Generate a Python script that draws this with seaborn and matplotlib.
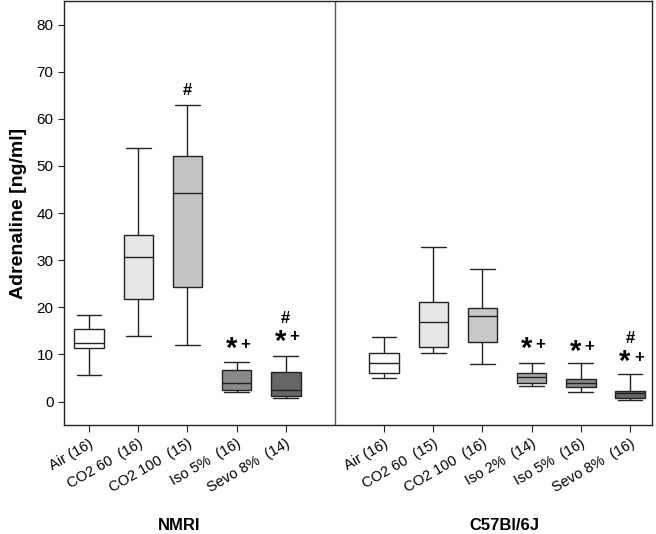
import numpy as np
import pandas as pd
import seaborn as sns
import matplotlib.pyplot as plt

# groups: NMRI (left) and C57Bl/6J (right)
nmri_labels = ["Air (16)", "CO2 60  (16)", "CO2 100  (15)", "Iso 5%  (16)", "Sevo 8%  (14)"]
c57_labels = ["Air (16)", "CO2 60  (15)", "CO2 100  (16)", "Iso 2%  (14)", "Iso 5%  (16)", "Sevo 8%  (16)"]

# five-number summaries: min, q1, median, q3, max
nmri_min = [5.7, 13.9, 11.9, 2.0, 0.7]
nmri_q1 = [11.4, 21.8, 24.4, 2.5, 1.2]
nmri_med = [12.4, 30.6, 44.3, 4.0, 2.5]
nmri_q3 = [15.4, 35.4, 52.1, 6.7, 6.3]
nmri_max = [18.3, 53.9, 62.9, 8.3, 9.7]

c57_min = [5.0, 10.3, 7.9, 3.3, 2.1, 0.4]
c57_q1 = [6.1, 11.5, 12.7, 3.9, 3.1, 0.7]
c57_med = [8.1, 16.9, 18.1, 5.2, 4.0, 1.7]
c57_q3 = [10.4, 21.2, 19.9, 6.1, 4.7, 2.2]
c57_max = [13.6, 32.7, 28.1, 8.1, 8.1, 5.9]

nmri_colors = ["#ffffff", "#e6e6e6", "#c4c4c4", "#8a8a8a", "#666666"]
c57_colors = ["#ffffff", "#e6e6e6", "#c8c8c8", "#a8a8a8", "#8c8c8c", "#666666"]

# significance marks: "*+" height and "#" height per box
nmri_star = [None, None, None, 11.7, 13.2]
nmri_hash = [None, None, 66.0, None, 17.6]
c57_star = [None, None, None, 11.7, 11.1, 8.9]
c57_hash = [None, None, None, None, None, 13.3]

# long table: 5 summary values per box, so quartiles come out exact
rows = []
pos_nmri = list(range(5))
pos_c57 = list(range(6, 12))
for i, p in enumerate(pos_nmri):
    for v in [nmri_min[i], nmri_q1[i], nmri_med[i], nmri_q3[i], nmri_max[i]]:
        rows.append({"pos": p, "key": "n%d" % i, "value": v})
for i, p in enumerate(pos_c57):
    for v in [c57_min[i], c57_q1[i], c57_med[i], c57_q3[i], c57_max[i]]:
        rows.append({"pos": p, "key": "c%d" % i, "value": v})
df = pd.DataFrame(rows)

palette = {}
for i, c in enumerate(nmri_colors):
    palette["n%d" % i] = c
for i, c in enumerate(c57_colors):
    palette["c%d" % i] = c

sns.set_style("ticks")
plt.rcParams['font.family'] = ['Liberation Sans', 'DejaVu Sans']
plt.rcParams['text.color'] = 'black'
plt.rcParams['xtick.color'] = '#222222'
plt.rcParams['ytick.color'] = '#222222'
plt.rcParams['xtick.labelcolor'] = 'black'
plt.rcParams['ytick.labelcolor'] = 'black'
plt.rcParams['axes.labelcolor'] = 'black'

fig = plt.figure(figsize=(6.56, 5.34), dpi=100)
ax = fig.add_axes([0.0976, 0.204, 0.8964, 0.794])

sns.boxplot(data=df, x="pos", y="value", hue="key", palette=palette,
            native_scale=True, dodge=False, legend=False, width=0.6,
            whis=np.inf, linewidth=1.0, linecolor="#222222", ax=ax)

# caps a bit wider than seaborn default
for line in ax.lines:
    xd = line.get_xdata()
    yd = line.get_ydata()
    if len(xd) == 2 and yd[0] == yd[1] and abs(xd[1] - xd[0]) < 0.35:
        c = (xd[0] + xd[1]) / 2
        line.set_xdata([c - 0.25, c + 0.25])

ax.axvline(5, color="#555555", lw=1)

ax.set_xlim(-0.51, 11.45)
ax.set_ylim(-5, 85)
ax.set_yticks(range(0, 81, 10))
ax.set_xticks(pos_nmri + pos_c57)
ax.set_xticklabels(nmri_labels + c57_labels, rotation=30, ha="right",
                   rotation_mode="anchor", fontsize=10.5)
ax.tick_params(axis="y", labelsize=11, direction="out", length=4)
ax.tick_params(axis="x", direction="out", length=5)
ax.set_xlabel("")
ax.set_ylabel("Adrenaline [ng/ml]", fontsize=14, fontweight="bold", labelpad=7)
for s in ax.spines.values():
    s.set_color("#222222")
    s.set_linewidth(1.0)


def mark(p, star, hsh):
    if star is not None:
        ax.text(p - 0.1, star - 0.6, "*", fontsize=21, fontweight="bold",
                ha="center", va="center")
        ax.text(p + 0.18, star + 0.5, "+", fontsize=12, fontweight="bold",
                ha="center", va="center")
    if hsh is not None:
        ax.text(p, hsh, "#", fontsize=12, fontweight="bold",
                ha="center", va="center")


for i, p in enumerate(pos_nmri):
    mark(p, nmri_star[i], nmri_hash[i])
for i, p in enumerate(pos_c57):
    mark(p, c57_star[i], c57_hash[i])

fig.text(179 / 656, 1 - 525 / 534, "NMRI", fontsize=12, fontweight="bold",
         ha="center", va="center")
fig.text(504 / 656, 1 - 525 / 534, "C57Bl/6J", fontsize=12, fontweight="bold",
         ha="center", va="center")

fig.savefig("out.png", dpi=100)
